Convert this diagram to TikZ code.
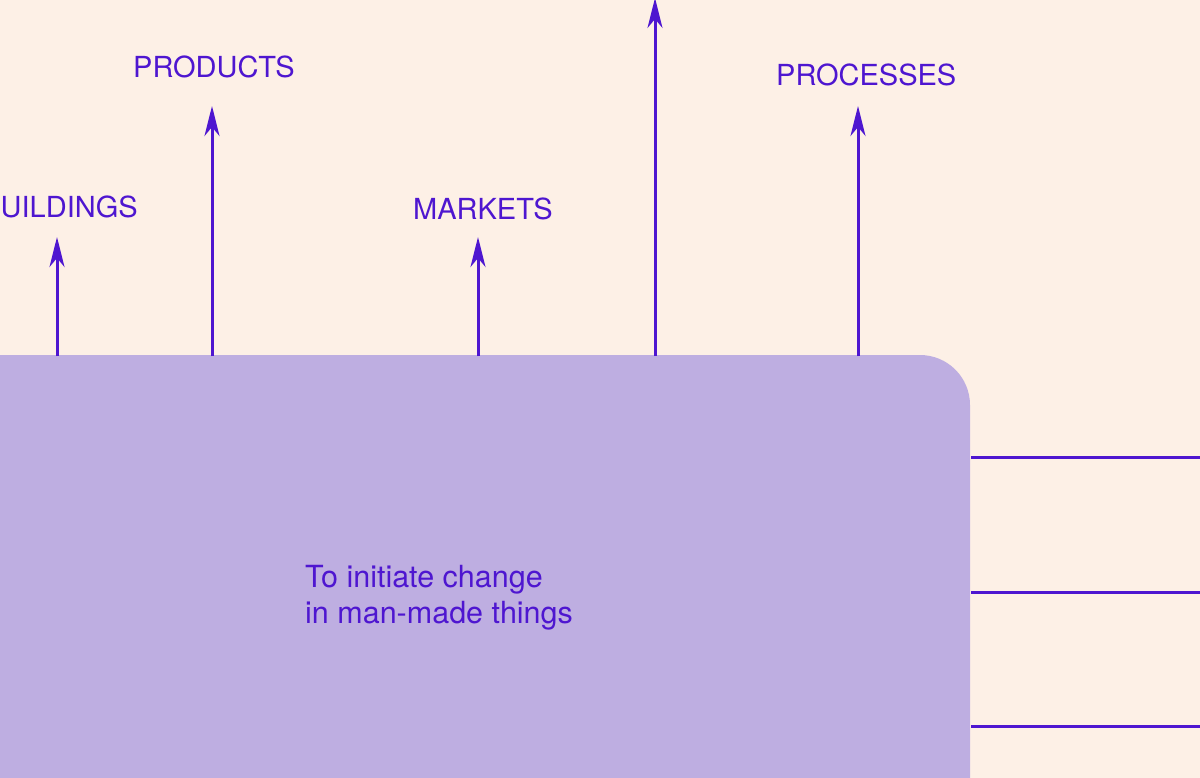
\documentclass[tikz,border=0pt]{standalone}
\usepackage{fontspec}
\setmainfont{TeX Gyre Heros}
\usetikzlibrary{arrows.meta}
\definecolor{bg}{RGB}{253,240,230}
\definecolor{ink}{RGB}{78,22,208}
\definecolor{boxfill}{RGB}{190,174,225}
\tikzset{
  lbl/.style={text=ink, inner sep=0pt, font=\fontsize{29}{34}\selectfont, anchor=base west},
  body/.style={text=ink, inner sep=0pt, font=\fontsize{30.5}{36}\selectfont, anchor=base west},
  uparrow/.style={draw=ink, line width=3pt, -{Stealth[length=30pt, width=15pt, inset=9pt]}},
  outline/.style={draw=ink, line width=3pt}
}
\begin{document}
\begin{tikzpicture}[x=1pt, y=-1pt]
\useasboundingbox (0,0) rectangle (1200,778);
\clip (0,0) rectangle (1200,778);
\fill[bg] (0,0) rectangle (1200,778);
% main box
\fill[boxfill, rounded corners=50pt] (-80,355) rectangle (970,900);
% anchor coordinates at top of the box
\coordinate (b1) at (57,356);
\coordinate (b2) at (212,356);
\coordinate (b3) at (478,356);
\coordinate (b4) at (655,356);
\coordinate (b5) at (858,356);
\coordinate (t1) at (57,237);
\coordinate (t2) at (212,106);
\coordinate (t3) at (478,237);
\coordinate (t4) at (655,-2);
\coordinate (t5) at (858,106);
\draw[uparrow] (b1) -- (t1);
\draw[uparrow] (b2) -- (t2);
\draw[uparrow] (b3) -- (t3);
\draw[uparrow] (b4) -- (t4);
\draw[uparrow] (b5) -- (t5);
% labels
\node[lbl] (buildings) at (0.5,218) {UILDINGS};
\node[lbl] (products) at (133,78) {PRODUCTS};
\node[lbl] (markets) at (413,220) {MARKETS};
\node[lbl] (processes) at (776,86) {PROCESSES};
% body text
\node[body] (line1) at (305,587) {To initiate change};
\node[body] (line2) at (305,623) {in man-made things};
% side lines
\coordinate (r1) at (971,457);
\coordinate (r2) at (971,592);
\coordinate (r3) at (971,726);
\coordinate (e1) at (1202,457);
\coordinate (e2) at (1202,592);
\coordinate (e3) at (1202,726);
\draw[outline] (r1) -- (e1);
\draw[outline] (r2) -- (e2);
\draw[outline] (r3) -- (e3);
\end{tikzpicture}
\end{document}
